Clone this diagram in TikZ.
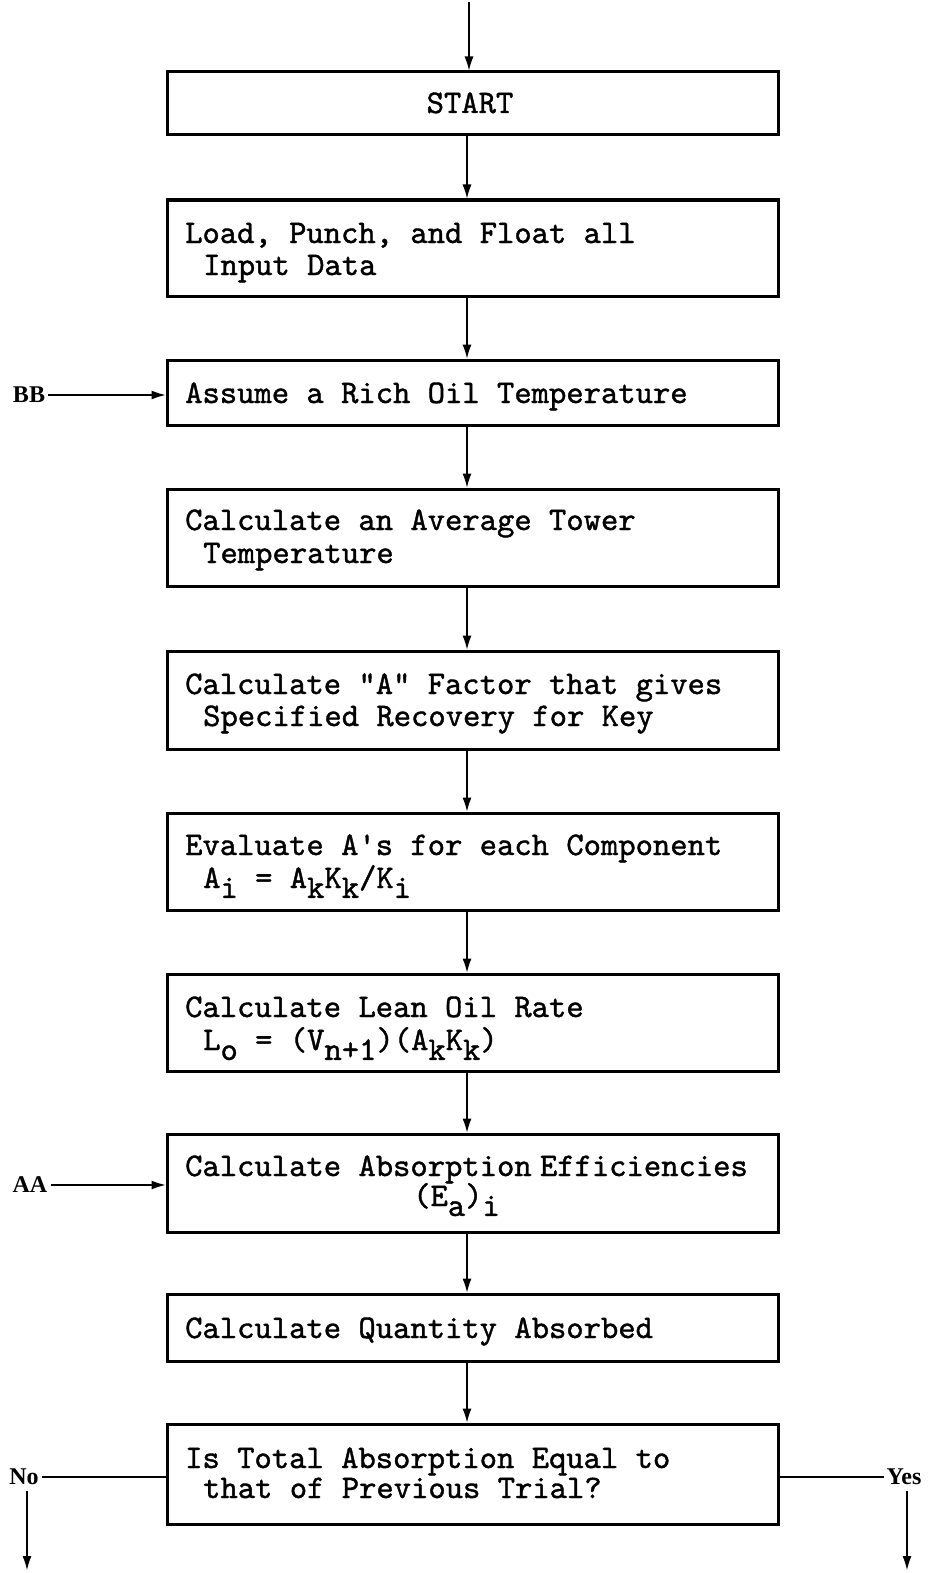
\documentclass[tikz,border=0pt]{standalone}
\usepackage{fontspec}
\newfontfamily\tw[FakeBold=1.2]{lmmono10-regular.otf}
\newfontfamily\lblfont{Liberation Serif}
\usetikzlibrary{arrows.meta}
\newcommand\lw[1]{\raisebox{-0.3em}{#1}}
\begin{document}
\begin{tikzpicture}[x=1pt,y=-1pt,
  fbox/.style={draw, line width=3pt, minimum width=611pt, inner sep=0pt},
  tx/.style={anchor=base west, inner sep=0pt, font=\tw\fontsize{33}{36}\selectfont},
  lbl/.style={inner sep=0pt, text depth=0pt, font=\lblfont\bfseries\fontsize{24}{24}\selectfont},
  arr/.style={line width=1.1pt, -{Latex[length=14pt,width=9pt]}},
  ln/.style={line width=1.1pt}]
\useasboundingbox[fill=white] (0,0) rectangle (934,1573);
% boxes
\node[fbox, minimum height=63pt] (b1) at (472.5,103.5) {};
\node[fbox, minimum height=96pt] (b2) at (472.5,248) {};
\node[fbox, minimum height=65pt] (b3) at (472.5,392.5) {};
\node[fbox, minimum height=97pt] (b4) at (472.5,537.5) {};
\node[fbox, minimum height=98pt] (b5) at (472.5,700) {};
\node[fbox, minimum height=97pt] (b6) at (472.5,861.5) {};
\node[fbox, minimum height=97pt] (b7) at (472.5,1022.5) {};
\node[fbox, minimum height=98pt] (b8) at (472.5,1183) {};
\node[fbox, minimum height=67pt] (b9) at (472.5,1327.5) {};
\node[fbox, minimum height=100pt] (b10) at (472.5,1474) {};
% texts
\node[tx, anchor=base] (t1) at (470,113) {START};
\node[tx] (t2a) at (185,243) {Load, Punch, and Float all};
\node[tx] (t2b) at (203,275) {Input Data};
\node[tx] (t3) at (185,403) {Assume a Rich Oil Temperature};
\node[tx] (t4a) at (185,530) {Calculate an Average Tower};
\node[tx] (t4b) at (203,563) {Temperature};
\node[tx] (t5a) at (185,694) {Calculate "A" Factor that gives};
\node[tx] (t5b) at (203,726) {Specified Recovery for Key};
\node[tx] (t6a) at (185,855) {Evaluate A's for each Component};
\node[tx] (t6b) at (203,888) {A\lw{i} = A\lw{k}K\lw{k}/K\lw{i}};
\node[tx] (t7a) at (185,1017) {Calculate Lean Oil Rate};
\node[tx] (t7b) at (203,1050) {L\lw{o} = (V\lw{n+1})(A\lw{k}K\lw{k})};
\node[tx] (t8a) at (185,1176) {Calculate Absorption\hspace{0.25em}Efficiencies};
\node[tx] (t8b) at (413,1206) {(E\lw{a})\lw{i}};
\node[tx] (t9) at (185,1338) {Calculate Quantity Absorbed};
\node[tx] (t10a) at (185,1468) {Is Total Absorption Equal to};
\node[tx] (t10b) at (203,1498) {that of Previous Trial?};
% side labels
\node[lbl] (BB) at (29,395) {BB};
\node[lbl] (AA) at (30,1185) {AA};
\node[lbl] (No) at (24,1477) {No};
\node[lbl] (Yes) at (904,1477) {Yes};
% coordinates
\coordinate (top) at (469,2);
\coordinate (ax) at (467,0);
\coordinate (noend) at (27,1570);
\coordinate (yesend) at (907,1570);
% connectors
\draw[arr] (top) -- (b1.north -| top);
\draw[arr] (b1.south -| ax) -- (b2.north -| ax);
\draw[arr] (b2.south -| ax) -- (b3.north -| ax);
\draw[arr] (b3.south -| ax) -- (b4.north -| ax);
\draw[arr] (b4.south -| ax) -- (b5.north -| ax);
\draw[arr] (b5.south -| ax) -- (b6.north -| ax);
\draw[arr] (b6.south -| ax) -- (b7.north -| ax);
\draw[arr] (b7.south -| ax) -- (b8.north -| ax);
\draw[arr] (b8.south -| ax) -- (b9.north -| ax);
\draw[arr] (b9.south -| ax) -- (b10.north -| ax);
\draw[arr] ([xshift=3pt]BB.east) -- (b3.west |- BB);
\draw[arr] ([xshift=3pt]AA.east) -- (b8.west |- AA);
\draw[ln] ([xshift=3pt]No.east) -- (b10.west |- No);
\draw[ln] (b10.east |- Yes) -- ([xshift=-2pt]Yes.west);
\draw[arr] ([yshift=-6pt]No.south -| noend) -- (noend);
\draw[arr] ([yshift=-6pt]Yes.south -| yesend) -- (yesend);
\end{tikzpicture}
\end{document}
